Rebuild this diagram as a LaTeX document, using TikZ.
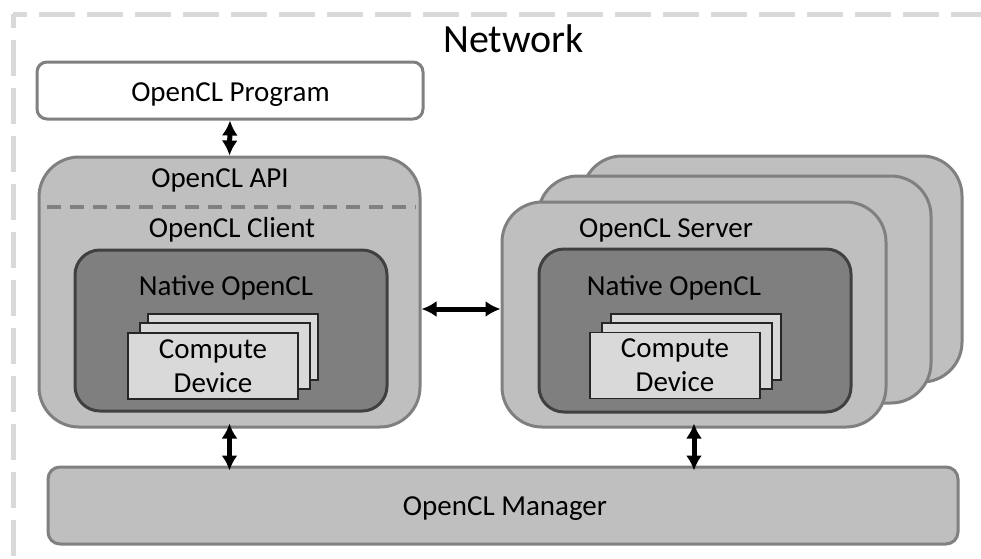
\documentclass[tikz,border=0pt]{standalone}
\usepackage{fontspec}
\setmainfont{Carlito}
\usetikzlibrary{arrows.meta,positioning,calc}
\definecolor{netgray}{RGB}{217,217,217}
\definecolor{boxgray}{RGB}{191,191,191}
\definecolor{edgegray}{RGB}{128,128,128}
\definecolor{nativegray}{RGB}{127,127,127}
\definecolor{nativeedge}{RGB}{64,64,64}
\definecolor{devgray}{RGB}{217,217,217}
\definecolor{devedge}{RGB}{38,38,38}
\tikzset{>={Latex[length=15pt,width=16pt]}}
\tikzset{
  netline/.style={draw=netgray, line width=5pt, dash pattern={on 36pt off 12pt}, dash phase=22pt},
  progbox/.style={draw=edgegray, fill=white, line width=3pt, rounded corners=10pt, inner sep=0pt},
  layerbox/.style={draw=edgegray, fill=boxgray, line width=3pt, rounded corners=40pt, inner sep=0pt},
  nativebox/.style={draw=nativeedge, fill=nativegray, line width=3pt, rounded corners=25pt, inner sep=0pt},
  devbox/.style={draw=devedge, fill=devgray, line width=1.5pt, inner sep=0pt,
    minimum width=170pt, minimum height=66pt, align=center, font=\fontsize{29}{34}\selectfont},
  mgrbox/.style={draw=edgegray, fill=boxgray, line width=3pt, rounded corners=12pt, inner sep=0pt},
  boxlabel/.style={inner sep=0pt, anchor=base, font=\fontsize{29}{34}\selectfont},
  apisep/.style={draw=edgegray, line width=4pt, dash pattern={on 14pt off 9pt}},
  biarrow/.style={<->, line width=5pt, black},
}
\begin{document}
\begin{tikzpicture}[x=1pt,y=1pt,yscale=-1]
\useasboundingbox (0,0) rectangle (981,558);
\clip (0,0) rectangle (981,558);

%Network border
\draw[netline] (13,14) -- (1000,14);
\draw[netline] (13,14) -- (13,600);
\node[inner sep=0pt, anchor=base, font=\fontsize{40}{48}\selectfont] (network) at (513.5,52) {Network};

%OpenCL Program
\node[progbox, minimum width=386pt, minimum height=57pt] (program) at (230,90.5) {};
\node[boxlabel] (programtext) at (230.5,101.5) {OpenCL Program};

%OpenCL Client
\node[layerbox, minimum width=381pt, minimum height=270pt] (client) at (229.5,292) {};
\node[boxlabel] (apitext) at (220,187) {OpenCL API};
\draw[apisep] (47,207) -- (416,207);
\node[boxlabel] (clienttext) at (232,237) {OpenCL Client};
\node[nativebox, minimum width=312pt, minimum height=161pt] (clientnative) at (231,330.5) {};
\node[boxlabel] (clientnativetext) at (226,295) {Native OpenCL};
\node[devbox] (clientdev3) at (233,347) {};
\node[devbox] (clientdev2) at (225,356) {};
\node[devbox] (clientdev1) at (213,366) {Compute\\Device};

%OpenCL Server stack
\node[layerbox, minimum width=380pt, minimum height=226pt] (server3) at (772,269) {};
\node[layerbox, minimum width=393pt, minimum height=227pt] (server2) at (734.5,289.5) {};
\node[layerbox, minimum width=384pt, minimum height=225pt] (server) at (694,314.5) {};
\node[boxlabel] (servertext) at (666,237) {OpenCL Server};
\node[nativebox, minimum width=312pt, minimum height=163pt] (servernative) at (695,330.5) {};
\node[boxlabel] (servernativetext) at (674,295) {Native OpenCL};
\node[devbox] (serverdev3) at (696,347) {};
\node[devbox] (serverdev2) at (687,356) {};
\node[devbox] (serverdev1) at (675,365.5) {Compute\\Device};

%OpenCL Manager
\node[mgrbox, minimum width=910pt, minimum height=77pt] (manager) at (503,505.5) {};
\node[boxlabel] (managertext) at (505,515) {OpenCL Manager};

%Links
\coordinate (link) at (461,309);
\draw[biarrow] (program.south) -- (client.north);
\draw[biarrow] (client.east |- link) -- (server.west |- link);
\draw[biarrow, shorten <=-5pt, shorten >=-5pt] (client.south) -- (client.south |- manager.north);
\draw[biarrow, shorten <=-5pt, shorten >=-5pt] (server.south) -- (server.south |- manager.north);
\end{tikzpicture}
\end{document}
